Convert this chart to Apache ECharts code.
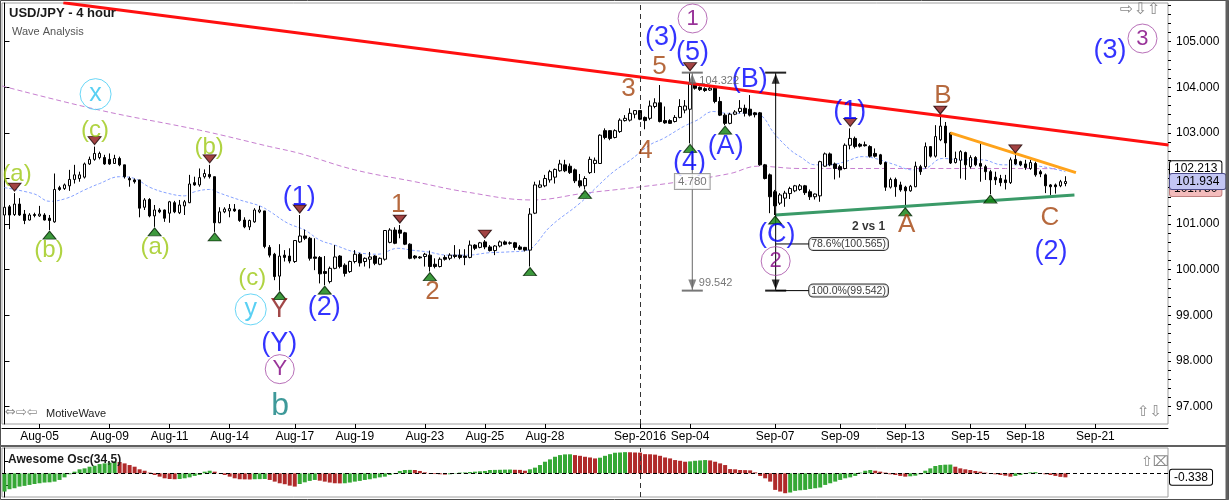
<!DOCTYPE html>
<html><head><meta charset="utf-8">
<script src="https://cdn.jsdelivr.net/npm/echarts@6.0.0/dist/echarts.min.js"></script>
<style>html,body{margin:0;padding:0;background:#fff}#c{width:1229px;height:500px}</style>
</head><body><div id="c"></div>
<script>
const FONT = "'Liberation Sans', Arial, sans-serif";

// ---------------- data ----------------
const slotCount = 233; // bar slots on the time axis (213 bars + empty future space)
const tickLabels = ['Aug-05','Aug-09','Aug-11','Aug-14','Aug-17','Aug-19','Aug-23','Aug-25','Aug-28','Sep-2016','Sep-04','Sep-07','Sep-09','Sep-13','Sep-15','Sep-18','Sep-21'];
const tickBars = [7,21,33,45,58,70,84,96,108,127,137,154,167,180,193,204,218];

const opens = [
101.20,101.38,101.21,101.44,101.22,101.09,101.21,101.18,101.20,101.13,
101.05,101.80,101.78,101.84,101.98,102.00,102.03,102.32,102.42,102.46,
102.46,102.42,102.33,102.44,102.30,102.00,101.97,101.97,101.37,101.54,
101.18,101.31,101.31,101.24,101.47,101.25,101.40,101.47,101.91,101.86,
102.04,102.09,102.04,101.03,101.27,101.29,101.33,101.31,101.09,100.94,
101.05,101.27,101.29,100.49,100.34,99.86,100.32,100.30,100.18,100.61,
100.74,100.69,100.28,100.27,99.96,99.74,100.03,100.30,100.10,99.96,
100.18,100.34,100.18,100.23,100.30,100.12,100.23,100.60,100.87,100.87,
100.81,100.56,100.30,100.28,100.29,100.32,100.12,100.07,100.27,100.25,
100.32,100.32,100.30,100.27,100.54,100.49,100.61,100.50,100.42,100.52,
100.61,100.59,100.59,100.50,100.49,100.43,101.24,101.81,101.84,101.97,
102.03,102.17,102.30,102.27,102.19,101.95,101.84,102.13,102.33,102.33,
103.05,103.05,102.90,103.03,103.27,103.28,103.41,103.49,103.34,103.32,
103.58,103.66,103.27,103.27,103.25,103.34,103.50,103.52,104.05,104.00,
103.97,103.94,103.98,103.69,103.39,103.21,103.41,103.47,103.54,103.52,
103.44,103.44,102.30,102.08,101.71,101.46,101.57,101.67,101.73,101.76,
101.84,101.71,101.60,101.62,102.27,102.54,102.32,102.26,102.22,102.73,
102.88,102.75,102.74,102.70,102.55,102.52,102.35,101.81,101.98,101.86,
101.81,101.73,101.82,102.26,102.26,102.70,102.49,102.85,103.15,103.00,
102.35,102.40,102.57,102.26,102.46,102.33,102.26,102.15,102.03,102.00,
101.97,101.91,102.42,102.37,102.32,102.22,102.33,102.15,102.08,101.86,
101.86,101.84,101.89];
const closes = [
101.37,101.20,101.44,101.20,101.08,101.20,101.19,101.22,101.09,101.08,
101.76,101.76,101.86,101.98,102.08,102.08,102.32,102.42,102.55,102.55,
102.32,102.32,102.44,102.30,102.04,101.97,101.93,101.35,101.53,101.18,
101.31,101.27,101.13,101.49,101.27,101.42,101.49,101.88,101.86,102.02,
102.11,102.04,101.03,101.27,101.33,101.34,101.29,101.08,100.94,101.08,
101.31,101.31,100.51,100.32,99.85,100.30,100.27,100.19,100.64,100.74,
100.69,100.25,100.25,99.91,99.92,100.03,100.28,100.07,99.92,100.18,
100.34,100.15,100.25,100.28,100.14,100.25,100.86,100.87,100.58,100.80,
100.56,100.25,100.26,100.26,100.34,100.07,100.07,100.23,100.23,100.32,
100.29,100.27,100.27,100.54,100.47,100.59,100.50,100.42,100.52,100.61,
100.56,100.58,100.49,100.45,100.43,101.22,101.86,101.86,102.00,102.15,
102.20,102.32,102.17,102.13,101.95,101.84,102.00,102.42,102.40,102.95,
102.90,102.88,103.05,103.28,103.32,103.43,103.49,103.30,103.27,103.59,
103.66,103.25,103.22,103.21,103.34,103.58,103.59,104.09,103.98,103.95,
103.93,103.98,103.69,103.39,103.21,103.41,103.46,103.54,103.43,103.39,
103.40,102.30,102.00,101.60,101.40,101.64,101.68,101.78,101.84,101.84,
101.69,101.60,101.66,102.37,102.54,102.30,102.22,102.19,102.73,102.88,
102.70,102.71,102.72,102.49,102.49,102.32,101.81,101.98,101.82,101.75,
101.73,101.83,102.27,102.15,102.70,102.49,102.92,103.15,102.78,102.34,
102.44,102.59,102.30,102.46,102.30,102.27,102.15,101.97,101.97,101.91,
101.91,102.41,102.32,102.30,102.24,102.35,102.08,102.10,101.84,101.82,
101.82,101.93,101.934];
const lows = [
101.18,100.89,101.18,101.18,101.00,101.08,101.15,101.16,101.08,100.87,
101.03,101.73,101.75,101.73,101.89,101.93,102.00,102.30,102.39,102.42,
102.30,102.30,102.32,102.27,102.00,101.82,101.89,101.15,101.31,101.15,
100.94,101.24,101.05,101.03,101.24,101.22,101.20,101.46,101.84,101.82,
102.00,102.00,100.83,101.02,101.24,101.15,101.27,101.05,100.91,100.87,
101.03,101.24,100.47,100.27,99.77,99.54,100.18,100.14,100.15,100.59,
100.65,100.20,99.99,99.70,99.66,99.70,100.01,100.03,99.85,99.93,
100.14,100.07,100.07,100.03,100.10,100.10,100.20,100.58,100.56,100.69,
100.54,100.23,100.23,100.24,100.07,99.96,100.03,100.05,100.20,100.21,
100.25,100.23,100.10,100.25,100.43,100.47,100.45,100.40,100.32,100.49,
100.54,100.55,100.43,100.43,100.40,100.07,101.22,101.79,101.81,101.91,
101.89,102.15,102.14,102.10,101.90,101.80,101.76,102.10,102.12,102.32,
102.86,102.84,102.88,103.00,103.25,103.25,103.32,103.28,103.08,103.28,
103.54,103.23,103.20,103.20,103.23,103.32,103.43,102.77,103.95,103.92,
103.90,103.92,103.65,103.37,103.17,103.19,103.39,103.43,103.36,103.36,
103.34,102.28,101.98,101.24,101.20,101.42,101.38,101.55,101.70,101.73,
101.64,101.53,101.54,101.49,102.26,102.27,101.98,102.02,102.20,102.64,
102.66,102.68,102.70,102.46,102.46,102.30,101.73,101.78,101.60,101.71,
101.38,101.71,101.81,102.08,102.22,102.46,102.46,102.82,102.47,102.32,
102.33,102.00,101.97,102.22,102.27,101.93,101.97,101.66,101.86,101.83,
101.76,101.88,102.30,102.27,102.19,102.19,102.04,102.03,101.68,101.64,
101.67,101.81,101.83];
const highs = [
101.40,101.42,101.68,101.57,101.31,101.24,101.25,101.40,101.24,101.20,
102.11,101.84,101.89,102.19,102.30,102.15,102.35,102.48,102.70,102.59,
102.52,102.55,102.52,102.48,102.30,102.04,102.00,101.97,101.57,101.57,
101.42,101.35,101.32,101.51,101.51,101.53,101.53,102.08,102.04,102.22,
102.20,102.30,102.04,101.37,101.37,101.44,101.44,101.32,101.15,101.10,
101.35,101.40,101.29,100.54,100.37,100.56,100.43,100.47,100.65,101.20,
100.88,100.72,100.69,100.30,100.30,100.07,100.54,100.32,100.14,100.20,
100.43,100.37,100.27,100.39,100.32,100.27,100.87,100.91,100.93,100.98,
100.83,100.58,100.32,100.30,100.37,100.42,100.25,100.27,100.32,100.36,
100.54,100.45,100.45,100.64,100.56,100.61,100.65,100.54,100.54,100.64,
100.64,100.62,100.61,100.54,100.50,101.35,101.93,101.96,102.08,102.19,
102.22,102.41,102.41,102.33,102.22,102.10,102.05,102.48,102.46,102.97,
103.10,103.06,103.08,103.32,103.39,103.54,103.50,103.50,103.36,103.71,
103.76,104.05,103.58,103.30,103.39,103.74,103.72,104.32,104.10,104.02,
104.00,104.01,104.01,103.79,103.43,103.44,103.50,103.72,103.62,103.83,
103.46,103.46,102.32,102.11,101.75,101.68,101.73,101.82,101.86,101.88,
101.86,101.76,101.67,102.39,102.57,102.57,102.35,102.30,102.77,103.10,
102.92,102.78,102.81,102.73,102.66,102.54,102.37,102.02,102.02,101.93,
101.84,101.86,102.37,102.30,102.79,102.71,103.17,103.37,103.24,103.02,
102.59,102.62,102.59,102.51,102.49,102.77,102.30,102.19,102.15,102.08,
102.08,102.46,102.52,102.39,102.41,102.41,102.37,102.19,102.11,101.88,
101.89,101.97,102.05];

// Awesome Oscillator (34,5)
const aoValues = [
-1.54,-1.34,-1.26,-1.12,-1.06,-0.98,-0.90,-0.84,-0.78,-0.76,
-0.70,-0.56,-0.34,-0.08,0.14,0.34,0.42,0.56,0.64,0.78,
0.84,0.90,0.98,0.96,0.84,0.70,0.56,0.34,0.22,0.06,
-0.14,-0.28,-0.42,-0.48,-0.50,-0.48,-0.42,-0.34,-0.22,-0.14,
0.14,0.22,0.14,-0.02,-0.14,-0.28,-0.42,-0.50,-0.51,-0.52,
-0.50,-0.49,-0.48,-0.56,-0.70,-0.84,-0.92,-1.04,-1.12,-0.90,
-0.76,-0.64,-0.56,-0.62,-0.70,-0.78,-0.84,-0.85,-0.84,-0.78,
-0.70,-0.64,-0.56,-0.50,-0.42,-0.34,-0.28,-0.14,-0.06,0.20,
0.28,0.29,0.28,0.20,0.08,-0.03,-0.06,-0.08,-0.11,-0.08,
-0.03,0.06,0.07,0.11,0.14,0.17,0.20,0.28,0.29,0.30,
0.31,0.32,0.30,0.29,0.22,0.34,0.48,0.70,0.98,1.18,
1.40,1.54,1.60,1.61,1.54,1.48,1.40,1.34,1.26,1.32,
1.48,1.62,1.74,1.76,1.79,1.78,1.76,1.75,1.62,1.61,
1.58,1.48,1.34,1.26,1.12,1.06,0.98,1.01,1.06,1.09,
1.12,1.09,0.98,0.84,0.70,0.36,0.34,0.28,0.27,0.25,
0.08,-0.22,-0.42,-0.70,-1.40,-1.54,-1.68,-1.62,-1.48,-1.43,
-1.40,-1.32,-1.26,-1.20,-0.98,-0.84,-0.70,-0.56,-0.42,-0.34,
-0.22,0.06,0.22,0.28,0.22,0.14,0.06,-0.08,-0.14,-0.22,
-0.28,-0.25,-0.20,-0.08,0.22,0.42,0.62,0.70,0.73,0.74,
0.56,0.42,0.34,0.28,0.20,0.14,0.06,-0.03,-0.08,-0.14,
-0.20,-0.28,-0.22,-0.14,-0.06,0.08,0.10,-0.03,-0.08,-0.14,
-0.22,-0.30,-0.338];

// moving averages read at sampled bars: [bar, price]
const fastMA = [[0,101.80],[6,101.66],[9,101.50],[12.5,101.57],[16,101.75],[19,101.89],[23,102.04],[26,102.00],[29,101.81],[32.5,101.68],[36,101.62],[38,101.71],[41,101.76],[43,101.68],[47,101.53],[51,101.40],[53,101.28],[56.6,101.02],[60,100.87],[63,100.65],[66,100.54],[70,100.39],[74.6,100.34],[78.6,100.47],[81.3,100.43],[84.6,100.39],[88.6,100.32],[92.6,100.32],[96.6,100.37],[100.6,100.39],[104.6,100.43],[106,100.54],[109,100.94],[115,101.46],[118.4,101.82],[121.7,102.15],[125,102.40],[129,102.74],[131.7,102.88],[135.7,103.14],[138.4,103.28],[141.6,103.47],[144.4,103.43],[148.4,103.43],[151,103.39],[153.8,102.99],[157.1,102.62],[159,102.48],[162,102.30],[164.8,102.30],[168,102.37],[171.4,102.48],[174,102.44],[178,102.30],[181.4,102.19],[184,102.22],[187.4,102.44],[191.4,102.41],[195.4,102.41],[199.4,102.30],[203.4,102.30],[207.4,102.26],[212,102.15]];
const slowMA = [[-0.5,104.03],[19,103.50],[39,103.06],[53,102.70],[59,102.55],[70,102.19],[82,101.93],[92,101.71],[105.5,101.53],[116,101.68],[125,101.79],[135,101.93],[145,102.11],[150.5,102.27],[159,102.22],[180,102.22],[200,102.22],[212,102.213]];

// price markers on the right scale
const priceMarkers = {slowMA: 102.213, last: 101.934, fastBand: 101.780};

// wave labels: [text, bar, price, degree]
const waveLabels = [
 ['(a)', 2.5, 102.08, 'subminuette'], ['(b)', 8.9, 100.43, 'subminuette'], ['(c)', 18.1, 103.06, 'subminuette'],
 ['(a)', 30.1, 100.50, 'subminuette'], ['(b)', 40.9, 102.69, 'subminuette'], ['(c)', 49.5, 99.82, 'subminuette'],
 ['x', 18.2, 103.85, 'minuteCircle'], ['y', 49.2, 99.13, 'minuteCircle'],
 ['Y', 54.9, 99.12, 'minorWXY'],
 ['(1)', 58.9, 101.58, 'intermediate'], ['(2)', 63.9, 99.18, 'intermediate'], ['(Y)', 54.9, 98.39, 'intermediate'],
 ['Y', 55.0, 97.82, 'primary'], ['b', 55.1, 97.01, 'cycle'],
 ['1', 78.7, 101.42, 'minor'], ['2', 85.5, 99.51, 'minor'], ['3', 124.7, 103.96, 'minor'], ['4', 128.1, 102.60, 'minor'], ['5', 130.9, 104.45, 'minor'],
 ['(3)', 131.3, 105.09, 'intermediate'], ['1', 137.5, 105.51, 'primary'], ['(5)', 137.5, 104.76, 'intermediate'],
 ['(4)', 136.9, 102.34, 'intermediate'], ['(A)', 144.1, 102.71, 'intermediate'], ['(B)', 148.9, 104.16, 'intermediate'],
 ['(C)', 154.3, 100.78, 'intermediate'], ['2', 154.1, 100.19, 'primary'], ['(1)', 168.9, 103.46, 'intermediate'],
 ['B', 187.5, 103.81, 'minor'], ['A', 180.3, 100.98, 'minor'], ['C', 208.9, 101.13, 'minor'],
 ['(2)', 209.1, 100.39, 'intermediate'], ['(3)', 220.9, 104.80, 'intermediate'], ['3', 227.4, 105.07, 'primary']
];
const pivotHighBars = [2,18,41,59,79,96,137,169,187,202];
const pivotLowBars = [9,30,42,55,64,85,105,116,137,144,154,180,197];

// trend lines: [[bar, price],[bar, price]]
const resistanceLine = [[11.76,105.855],[232.6,102.735]];
const supportLine = [[154.1,101.20],[213.8,101.64]];
const upperTriangleLine = [[189.0,103.00],[214.1,102.13]];

// fibonacci tools
const fibHigh = 104.322, fibLow = 99.542;
const fibMeasureBar = 137.44, fibRetraceBar = 154.1;
const fibLevels = [0.786, 1.0];
const monthStartBar = 127;

const yMin = 96.617, yMax = 105.849;
const yLabelValues = [97,98,99,100,101,102,103,104,105];
const aoMin = -2.0, aoMax = 2.14;

// ---------------- build ----------------
const categories = Array.from({length: slotCount}, (_, i) => 'bar' + i);
const labelAt = {}; tickBars.forEach((b, k) => labelAt[b] = tickLabels[k]);
const candleData = opens.map((o, i) => [o, closes[i], lows[i], highs[i]]);
const minorTicks = [];
for (let v = 96.8; v < yMax; v += 0.2) minorTicks.push(+v.toFixed(1));
const HIDDEN = 'rgba(0,0,0,0)';

const styleOf = {
  subminuette: {color:'#9cc813', size:24},
  intermediate: {color:'#0000ff', size:27},
  minor: {color:'#a4440e', size:26},
  minorWXY: {color:'#8b1a1a', size:27},
  cycle: {color:'#0e8080', size:32},
  primary: {color:'#800080', size:22, ring:'#a64ca6', ringSize:29},
  minuteCircle: {color:'#30c4f0', size:25, ring:'#44ccf4', ringSize:31}
};

function seg(points, color, width, type, z) {
  return {type:'line', xAxisIndex:1, yAxisIndex:0, data:points, showSymbol:false, symbol:'none',
    lineStyle:{color:color, width:width, type:type || 'solid'}, z:z || 3, silent:true, clip:true};
}
function txt(point, text, color, size, extra) {
  return {type:'scatter', xAxisIndex:1, yAxisIndex:0, z:7, silent:true, symbolSize:1,
    itemStyle:{color:HIDDEN}, data:[[point[0], point[1], text]],
    label:Object.assign({show:true, position:'inside', formatter:p => p.value[2], color:color, fontSize:size, fontFamily:FONT}, extra || {})};
}
function priceBox(value, bg, border, pad) {
  return {show:true, position:'end', distance:2, formatter:() => value.toFixed(3), fontSize:12, fontFamily:FONT, color:'#000',
    backgroundColor:bg, borderColor:border, borderWidth:1, borderRadius:2, padding:pad || [2,4,1,4]};
}

const series = [];
series.push({type:'line', xAxisIndex:1, yAxisIndex:0, data:slowMA, smooth:0.4, showSymbol:false, symbol:'none', silent:true, z:1,
  lineStyle:{color:'#c77fd0', width:1, type:[5,3]}});
series.push({type:'line', xAxisIndex:1, yAxisIndex:0, data:fastMA, smooth:0.4, showSymbol:false, symbol:'none', silent:true, z:1,
  lineStyle:{color:'#86a2ff', width:1, type:[3,2]}});
series.push({type:'candlestick', xAxisIndex:0, yAxisIndex:0, data:candleData, barWidth:3, z:2, silent:true,
  itemStyle:{color:'#ffffff', color0:'#000000', borderColor:'#000000', borderColor0:'#000000', borderWidth:1},
  markLine:{symbol:['none','none'], silent:true, animation:false, precision:3,
    data:[
      {xAxis: categories[monthStartBar], lineStyle:{color:'#333', type:[5,4], width:1}, label:{show:false}},
      {yAxis: priceMarkers.fastBand, lineStyle:{color:HIDDEN, width:1}, label:priceBox(priceMarkers.fastBand, '#f3bcbc', '#c08080')},
      {yAxis: priceMarkers.slowMA, lineStyle:{color:HIDDEN, width:1}, label:priceBox(priceMarkers.slowMA, '#ffffff', '#000000')},
      {yAxis: priceMarkers.last, lineStyle:{color:HIDDEN, width:1}, label:priceBox(priceMarkers.last, '#c3c6f3', '#4a4a8a', [2,6,1,6])}
    ]}});

// trend lines
series.push(seg(resistanceLine, '#ff1010', 3, 'solid', 4));
series.push(seg(supportLine, '#3a9a68', 3, 'solid', 4));
series.push(seg(upperTriangleLine, '#ffa31a', 3, 'solid', 4));

// fibonacci: measuring tool (grey) and retracement (black)
const capHalf = 2.1;
series.push(seg([[fibMeasureBar, fibHigh],[fibMeasureBar, fibLow]], '#666', 1, 'solid', 4));
series.push(seg([[fibMeasureBar-capHalf, fibHigh],[fibMeasureBar+capHalf, fibHigh]], '#777', 2, 'solid', 4));
series.push(seg([[fibMeasureBar-capHalf, fibLow],[fibMeasureBar+capHalf, fibLow]], '#777', 2, 'solid', 4));
series.push(seg([[fibRetraceBar, fibHigh],[fibRetraceBar, fibLow]], '#000', 1, 'solid', 4));
series.push(seg([[fibRetraceBar-capHalf, fibHigh],[fibRetraceBar+capHalf, fibHigh]], '#222', 2, 'solid', 4));
series.push(seg([[fibRetraceBar-capHalf, fibLow],[fibRetraceBar+capHalf, fibLow]], '#222', 2, 'solid', 4));
const levelBoxBar = fibRetraceBar + 6.6;
fibLevels.forEach(lv => {
  const price = fibHigh - lv * (fibHigh - fibLow);
  series.push(seg([[fibRetraceBar, price],[levelBoxBar, price]], '#000', 1, 'solid', 4));
  series.push(txt([levelBoxBar, price], (lv*100).toFixed(1) + '%(' + price.toFixed(3) + ')', '#000', 10.5,
    {position:'right', distance:0, backgroundColor:'#fff', borderColor:'#000', borderWidth:1, borderRadius:4, padding:[1,2,0,2]}));
});
series.push(txt([levelBoxBar + 15.4, fibHigh - fibLevels[0]*(fibHigh - fibLow)], '2 vs 1', '#000', 12,
  {position:'left', distance:0, fontWeight:'bold', offset:[0,-17]}));
series.push(txt([fibMeasureBar + 1.3, fibHigh], fibHigh.toFixed(3), '#555', 11, {position:'right', distance:0, offset:[0,8]}));
series.push(txt([fibMeasureBar + 1.2, fibLow], fibLow.toFixed(3), '#555', 11, {position:'right', distance:0, offset:[0,-8]}));
series.push(txt([fibMeasureBar, (fibHigh + fibLow) / 2], (fibHigh - fibLow).toFixed(3), '#555', 11.5,
  {backgroundColor:'#fff', borderColor:'#888', borderWidth:1, padding:[2,3,1,3]}));
// arrow heads
series.push({type:'scatter', xAxisIndex:1, yAxisIndex:0, z:5, silent:true, symbol:'triangle', symbolSize:[8,10],
  data:[{value:[fibMeasureBar, fibHigh], symbolOffset:[0,6], itemStyle:{color:'#666'}},
        {value:[fibMeasureBar, fibLow], symbolOffset:[0,-6], symbolRotate:180, itemStyle:{color:'#666'}},
        {value:[fibRetraceBar, fibHigh], symbolOffset:[0,6], itemStyle:{color:'#000'}},
        {value:[fibRetraceBar, fibLow], symbolOffset:[0,-6], symbolRotate:180, itemStyle:{color:'#000'}}]});

// pivot triangles
series.push({type:'scatter', xAxisIndex:1, yAxisIndex:0, z:5, silent:true, symbol:'triangle', symbolSize:[13,8],
  symbolRotate:180, symbolOffset:[0,-6], data:pivotHighBars.map(i => [i, highs[i]]),
  itemStyle:{color:'#8b1414', borderColor:'#1a0000', borderWidth:1}});
series.push({type:'scatter', xAxisIndex:1, yAxisIndex:0, z:5, silent:true, symbol:'triangle', symbolSize:[13,8],
  symbolOffset:[0,5], data:pivotLowBars.map(i => [i, lows[i]]),
  itemStyle:{color:'#0d800d', borderColor:'#002000', borderWidth:1}});

// wave labels by degree
Object.keys(styleOf).forEach(key => {
  const s = styleOf[key];
  series.push({type:'scatter', xAxisIndex:1, yAxisIndex:0, z:6, silent:true,
    data: waveLabels.filter(w => w[3] === key).map(w => [w[1], w[2], w[0]]),
    symbol:'circle', symbolSize: s.ring ? s.ringSize : 1,
    itemStyle: s.ring ? {color:'rgba(255,255,255,0)', borderColor:s.ring, borderWidth:1} : {color:HIDDEN},
    label:{show:true, position:'inside', formatter:p => p.value[2], color:s.color, fontSize:s.size, fontFamily:FONT}});
});

// awesome oscillator
const aoLast = aoValues[aoValues.length-1];
series.push({type:'bar', xAxisIndex:2, yAxisIndex:2, barWidth:4, silent:true,
  data: aoValues.map((v, i) => ({value:v, itemStyle:{color: (i === 0 || v >= aoValues[i-1]) ? '#35a835' : '#b02a2a'}})),
  markLine:{symbol:['none','none'], silent:true, animation:false, precision:3,
    data:[
      {xAxis: categories[monthStartBar], lineStyle:{color:'#333', type:[5,4], width:1}, label:{show:false}},
      {yAxis: 0, lineStyle:{color:'#000', type:[4,3], width:1}, label:{show:false}},
      {yAxis: aoLast, lineStyle:{color:HIDDEN, width:1}, label:priceBox(aoLast, '#ffffff', '#000000')}
    ]}});

const option = {
  animation:false,
  backgroundColor:'#ffffff',
  grid:[
    {left:2, right:61, top:3, height:421, show:true, borderColor:'#a0a0a0', borderWidth:1, backgroundColor:'#fff'},
    {left:2, right:61, top:448, height:49, show:true, borderColor:'#a0a0a0', borderWidth:1, backgroundColor:'#fff'}
  ],
  xAxis:[
    {type:'category', gridIndex:0, data:categories, boundaryGap:true, offset:4,
      axisLine:{show:true, lineStyle:{color:'#000'}},
      axisTick:{show:true, inside:true, length:4, alignWithLabel:true, interval:(i) => labelAt[i] !== undefined, lineStyle:{color:'#000'}},
      axisLabel:{show:true, interval:(i) => labelAt[i] !== undefined, formatter:(v, i) => labelAt[i] || '', margin:3, fontSize:12, fontFamily:FONT, color:'#000'},
      splitLine:{show:false}},
    {type:'value', gridIndex:0, min:-0.5, max:slotCount-0.5, show:false},
    {type:'category', gridIndex:1, data:categories, boundaryGap:true, show:false},
    {type:'value', gridIndex:1, min:-0.5, max:slotCount-0.5, show:false}
  ],
  yAxis:[
    {type:'value', gridIndex:0, position:'right', min:yMin, max:yMax, scale:true,
      axisLine:{show:true, lineStyle:{color:'#000'}},
      axisTick:{show:true, length:5, customValues:yLabelValues, lineStyle:{color:'#000'}},
      axisLabel:{show:true, customValues:yLabelValues, formatter:v => v.toFixed(3), margin:8, fontSize:12, fontFamily:FONT, color:'#000'},
      splitLine:{show:false}},
    {type:'value', gridIndex:0, position:'right', min:yMin, max:yMax, scale:true,
      axisLine:{show:false}, axisTick:{show:true, length:3, customValues:minorTicks, lineStyle:{color:'#000'}},
      axisLabel:{show:false}, splitLine:{show:false}},
    {type:'value', gridIndex:1, position:'right', min:aoMin, max:aoMax,
      axisLine:{show:true, lineStyle:{color:'#000'}}, axisTick:{show:true, length:4, customValues:[-1,1], lineStyle:{color:'#000'}},
      axisLabel:{show:false}, splitLine:{show:false}}
  ],
  graphic:[
    {type:'rect', shape:{x:0.5, y:0.5, width:1228, height:499}, style:{fill:null, stroke:'#505050', lineWidth:1}, z:100, silent:true},
    {type:'line', shape:{x1:0, y1:446, x2:1229, y2:446}, style:{stroke:'#606060', lineWidth:2}, z:100, silent:true},
    {type:'line', shape:{x1:1227, y1:0, x2:1227, y2:500}, style:{stroke:'#606060', lineWidth:3}, z:100, silent:true},
    {type:'text', x:9, y:7, style:{text:'USD/JPY - 4 hour', font:"bold 13px 'Liberation Sans', Arial", fill:'#1a1a1a'}, z:100, silent:true},
    {type:'text', x:12, y:26, style:{text:'Wave Analysis', font:"11px 'Liberation Sans', Arial", fill:'#555'}, z:100, silent:true},
    {type:'text', x:1120, y:2, style:{text:'\u21E8\u21E9\u21E7', font:"16px 'DejaVu Sans'", fill:'#8a8a8a'}, z:100, silent:true},
    {type:'text', x:1137, y:405, style:{text:'\u21E7\u21E9', font:"15px 'DejaVu Sans'", fill:'#8a8a8a'}, z:100, silent:true},
    {type:'text', x:5, y:406, style:{text:'\u21D4\u21E8\u21E6', font:"13px 'DejaVu Sans'", fill:'#8a8a8a'}, z:100, silent:true},
    {type:'text', x:46, y:408, style:{text:'MotiveWave', font:"11px 'Liberation Sans', Arial", fill:'#222'}, z:100, silent:true},
    {type:'text', x:8, y:454, style:{text:'Awesome Osc(34,5)', font:"bold 12px 'Liberation Sans', Arial", fill:'#1a1a1a'}, z:100, silent:true},
    {type:'text', x:1141, y:455, style:{text:'\u21E7\u2327', font:"14px 'DejaVu Sans'", fill:'#8a8a8a'}, z:100, silent:true}
  ],
  series: series
};
const chart = echarts.init(document.getElementById('c'), null, {renderer:'canvas', width:1229, height:500});
chart.setOption(option);
</script>
</body></html>
